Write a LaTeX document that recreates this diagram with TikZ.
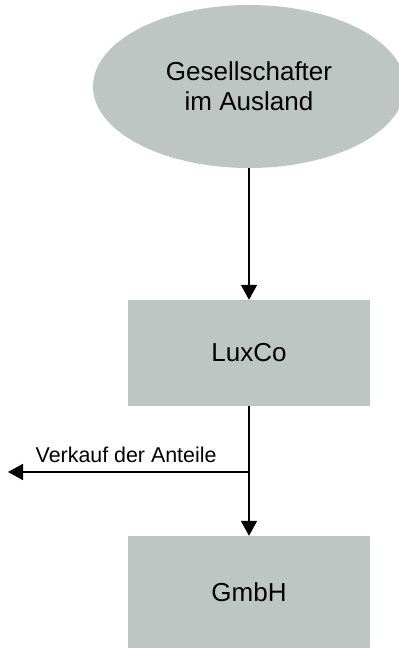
\documentclass[tikz,border=0pt]{standalone}
\usepackage{fontspec}
\setmainfont{Liberation Sans}
\usetikzlibrary{shapes.geometric,arrows.meta}

\definecolor{boxgrey}{RGB}{190,198,195}
\newcommand{\bigtxt}{\fontsize{26}{30}\selectfont}
\newcommand{\smalltxt}{\fontsize{21.4}{25}\selectfont}

\tikzset{
  entity/.style={fill=boxgrey,draw=none,inner sep=0pt,align=center,font=\bigtxt},
  firm/.style={entity,rectangle,minimum width=242pt,minimum height=#1},
  link/.style={line width=1.8pt,-{Triangle[width=16pt,length=15pt]}}
}

\begin{document}
\begin{tikzpicture}[x=1pt,y=1pt]
   \useasboundingbox (0,0) rectangle (399,649);
   % shareholder on top, the two companies below
   \node[entity,ellipse,minimum width=312pt,minimum height=163pt] (owner) at (249,562.5)
        {Gesellschafter\\im Ausland};
   \node[firm=106pt] (luxco) at (249,296) {LuxCo};
   \node[firm=112pt] (gmbh)  at (249,57)  {GmbH};
   % holding chain
   \draw[link] (owner.south) -- (luxco.north);
   \draw[link] (luxco.south) -- (gmbh.north);
   % sale branching off to the left
   \coordinate (branch) at (249,177);
   \coordinate (sale)   at (8,177);
   \draw[link] (branch) -- (sale)
        node[pos=0.51,above=5pt,font=\smalltxt] {Verkauf der Anteile};
\end{tikzpicture}
\end{document}
